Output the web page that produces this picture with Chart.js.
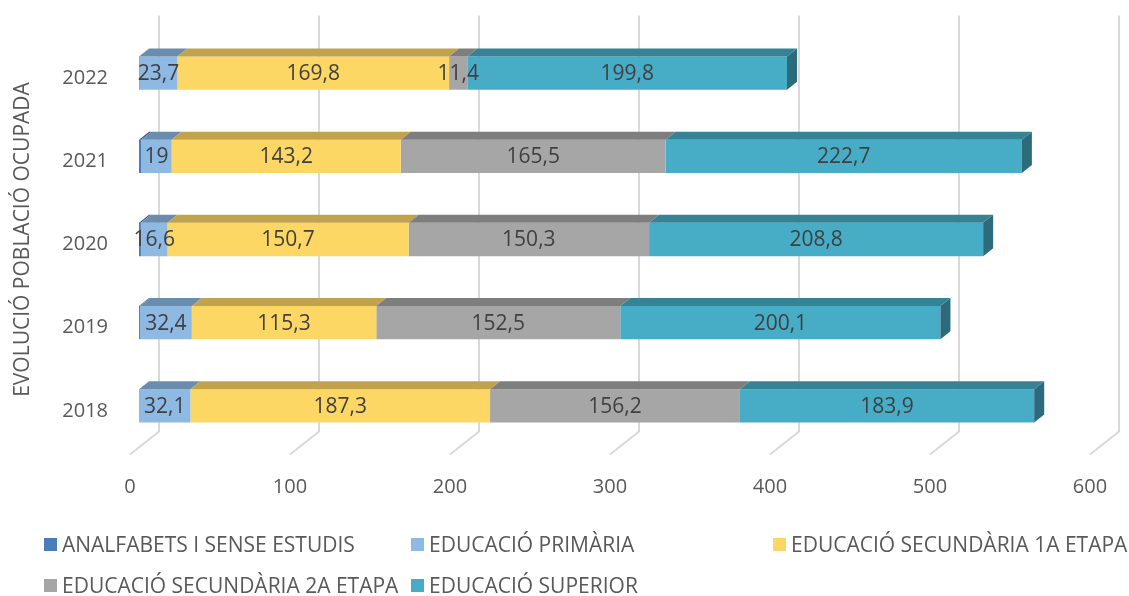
<!DOCTYPE html>
<html>
<head>
<meta charset="utf-8">
<script src="https://cdn.jsdelivr.net/npm/chart.js@4.4.1/dist/chart.umd.min.js"></script>
<style>
  html, body { margin: 0; padding: 0; background: #fff; }
  #wrap { position: relative; width: 1129px; height: 596px; font-family: "Open Sans", sans-serif; }
  #box { position: absolute; left: 0; top: 0; width: 1129px; height: 510px; }
  #legend { position: absolute; left: 0; top: 0; width: 1129px; height: 596px; pointer-events: none; }
  .item { position: absolute; display: flex; align-items: center; font-size: 21px; color: #595959; white-space: nowrap; }
  .item span.sw { display: inline-block; width: 13px; height: 13px; margin-right: 5px; }
</style>
</head>
<body>
<div id="wrap">
  <div id="box"><canvas id="myChart"></canvas></div>
  <div id="legend"></div>
</div>
<script>
// data
const years = ['2018', '2019', '2020', '2021', '2022'];
const analfabets = [0, 0.6, 1.2, 1.4, 0.3];
const primaria = [32.1, 32.4, 16.6, 19, 23.7];
const secundaria1 = [187.3, 115.3, 150.7, 143.2, 169.8];
const secundaria2 = [156.2, 152.5, 150.3, 165.5, 11.4];
const superior = [183.9, 200.1, 208.8, 222.7, 199.8];
const xTicks = [0, 100, 200, 300, 400, 500, 600];

const seriesNames = ['ANALFABETS I SENSE ESTUDIS', 'EDUCACIÓ PRIMÀRIA', 'EDUCACIÓ SECUNDÀRIA 1A ETAPA',
  'EDUCACIÓ SECUNDÀRIA 2A ETAPA', 'EDUCACIÓ SUPERIOR'];
const colors = ['#4a7ebb', '#8db9e3', '#fdd764', '#a6a6a6', '#47acc6'];

function shade(hex, f) {
  const n = parseInt(hex.slice(1), 16);
  const r = Math.round(((n >> 16) & 255) * f);
  const g = Math.round(((n >> 8) & 255) * f);
  const b = Math.round((n & 255) * f);
  return `rgb(${r},${g},${b})`;
}

// fake 3D: back wall gridlines, bar tops, right side and labels
const bar3d = {
  id: 'bar3d',
  beforeDatasetsDraw(chart) {
    const { ctx, chartArea, scales: { x } } = chart;
    ctx.save();
    ctx.strokeStyle = '#d9d9d9';
    ctx.lineWidth = 2;
    x.ticks.forEach(t => {
      const px = x.getPixelForValue(t.value);
      ctx.beginPath();
      ctx.moveTo(px + 20, chartArea.top - 16);
      ctx.lineTo(px + 20, chartArea.bottom - 16);
      ctx.lineTo(px - 9, chartArea.bottom + 7);
      ctx.stroke();
    });
    ctx.restore();
  },
  afterDatasetsDraw(chart) {
    const { ctx } = chart;
    const dx = 10, dy = -8;
    const last = chart.data.datasets.length - 1;
    ctx.save();
    chart.data.datasets.forEach((ds, i) => {
      const meta = chart.getDatasetMeta(i);
      meta.data.forEach(bar => {
        const { x, base, y, height } = bar.getProps(['x', 'base', 'y', 'height'], true);
        if (x - base <= 0) return;
        const top = y - height / 2, bottom = y + height / 2;
        ctx.fillStyle = shade(ds.backgroundColor, 0.76);
        ctx.beginPath();
        ctx.moveTo(base, top);
        ctx.lineTo(x, top);
        ctx.lineTo(x + dx, top + dy);
        ctx.lineTo(base + dx, top + dy);
        ctx.closePath();
        ctx.fill();
        if (i === last) {
          ctx.fillStyle = shade(ds.backgroundColor, 0.62);
          ctx.beginPath();
          ctx.moveTo(x, top);
          ctx.lineTo(x + dx, top + dy);
          ctx.lineTo(x + dx, bottom + dy);
          ctx.lineTo(x, bottom);
          ctx.closePath();
          ctx.fill();
        }
      });
    });
    // value labels
    ctx.font = '21px "Open Sans"';
    ctx.fillStyle = '#404040';
    ctx.textAlign = 'center';
    ctx.textBaseline = 'middle';
    chart.data.datasets.forEach((ds, i) => {
      if (i === 0) return;
      const meta = chart.getDatasetMeta(i);
      meta.data.forEach((bar, j) => {
        const v = ds.data[j];
        const { x, base, y } = bar.getProps(['x', 'base', 'y'], true);
        ctx.fillText(String(v).replace('.', ','), (x + base) / 2, y + 1);
      });
    });
    ctx.restore();
  }
};

const allSeries = [analfabets, primaria, secundaria1, secundaria2, superior];
const data = {
  labels: years,
  datasets: allSeries.map((s, i) => ({
    label: seriesNames[i],
    data: s,
    backgroundColor: colors[i],
    borderWidth: 0,
    categoryPercentage: 1,
    barPercentage: 0.4
  }))
};

const options = {
  indexAxis: 'y',
  responsive: true,
  maintainAspectRatio: false,
  animation: false,
  layout: { padding: { left: 10, right: 30, top: 31.5, bottom: 2.5 } },
  plugins: { legend: { display: false }, tooltip: { enabled: false } },
  scales: {
    x: {
      stacked: true,
      min: 0,
      max: 600,
      afterBuildTicks: axis => { axis.ticks = xTicks.map(v => ({ value: v })); },
      afterFit: axis => { axis.height = 60; axis.paddingLeft = 0; axis.paddingRight = 0; },
      grid: { display: false, drawTicks: false },
      border: { display: false },
      ticks: {
        color: '#595959',
        font: { family: 'Open Sans', size: 20 },
        padding: 28,
        labelOffset: -9
      }
    },
    y: {
      stacked: true,
      reverse: true,
      afterFit: axis => { axis.width = 129; axis.paddingTop = 0; axis.paddingBottom = 0; },
      grid: { display: false, drawTicks: false },
      border: { display: false },
      ticks: {
        color: '#595959',
        font: { family: 'Open Sans', size: 20 },
        padding: 31,
        labelOffset: 5
      },
      title: {
        display: true,
        text: 'EVOLUCIÓ POBLACIÓ OCUPADA',
        color: '#595959',
        font: { family: 'Open Sans', size: 21 },
        padding: { top: 0, bottom: 0 }
      }
    }
  }
};

const chart = new Chart(document.getElementById('myChart'), { type: 'bar', data, options, plugins: [bar3d] });

// legend laid out like the original, two rows
const legendPos = [[44, 545], [411, 545], [773, 545], [44, 586], [411, 586]];
const legend = document.getElementById('legend');
chart.data.datasets.forEach((ds, i) => {
  const el = document.createElement('div');
  el.className = 'item';
  el.style.left = legendPos[i][0] + 'px';
  el.style.top = (legendPos[i][1] - 15) + 'px';
  el.innerHTML = `<span class="sw" style="background:${ds.backgroundColor}"></span>${ds.label}`;
  legend.appendChild(el);
});
</script>
</body>
</html>
